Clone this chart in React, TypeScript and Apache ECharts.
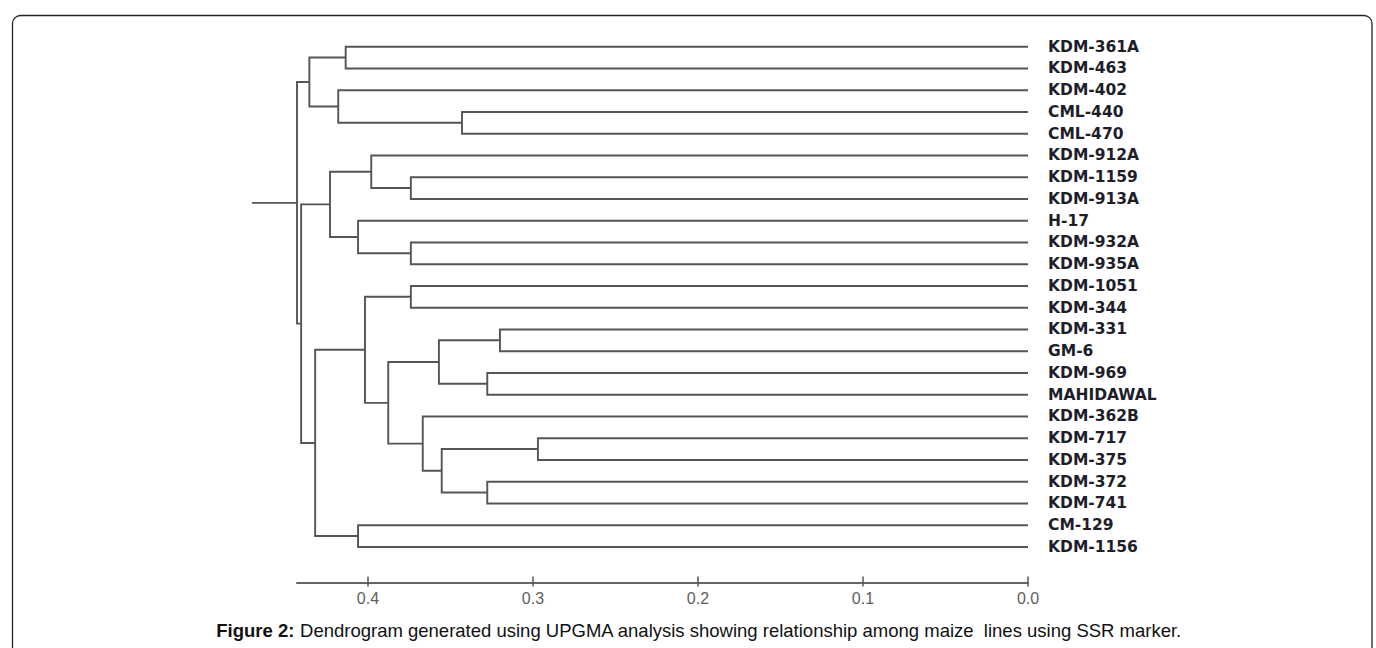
import React, { useEffect, useRef } from "react";
import * as echarts from "echarts";

const LEAVES = [
  "KDM-361A", "KDM-463", "KDM-402", "CML-440", "CML-470", "KDM-912A",
  "KDM-1159", "KDM-913A", "H-17", "KDM-932A", "KDM-935A", "KDM-1051",
  "KDM-344", "KDM-331", "GM-6", "KDM-969", "MAHIDAWAL", "KDM-362B",
  "KDM-717", "KDM-375", "KDM-372", "KDM-741", "CM-129", "KDM-1156",
];

// merge i is named "m" + i
const MERGE_LEFT = [
  "CML-440", "KDM-402", "KDM-361A", "m2", "KDM-1159", "KDM-912A", "KDM-932A",
  "H-17", "m5", "KDM-1051", "KDM-331", "KDM-969", "m10", "KDM-717", "KDM-372",
  "m13", "KDM-362B", "m12", "m9", "CM-129", "m18", "m8", "m3",
];
const MERGE_RIGHT = [
  "CML-470", "m0", "KDM-463", "m1", "KDM-913A", "m4", "KDM-935A", "m6", "m7",
  "KDM-344", "GM-6", "MAHIDAWAL", "m11", "KDM-375", "KDM-741", "m14", "m15",
  "m16", "m17", "KDM-1156", "m19", "m20", "m21",
];
const MERGE_HEIGHT = [
  0.343, 0.418, 0.4135, 0.4355, 0.374, 0.398, 0.374, 0.406, 0.423, 0.374,
  0.32, 0.3277, 0.357, 0.297, 0.3277, 0.3553, 0.3668, 0.3877, 0.4018, 0.406,
  0.432, 0.4405, 0.443,
];
const ROOT_STEM = 0.4703;
const X_TICKS = [0, 0.1, 0.2, 0.3, 0.4];
const CAPTION_BOLD = "Figure 2:";
const CAPTION_TEXT =
  " Dendrogram generated using UPGMA analysis showing relationship among maize  lines using SSR marker.";

function buildSegments() {
  const pos: Record<string, [number, number]> = {};
  LEAVES.forEach((n, i) => (pos[n] = [0, i]));
  const items: number[][] = [];
  MERGE_HEIGHT.forEach((h, i) => {
    const a = pos[MERGE_LEFT[i]];
    const b = pos[MERGE_RIGHT[i]];
    const y = (a[1] + b[1]) / 2;
    pos["m" + i] = [h, y];
    items.push([h, a[0], a[1], b[0], b[1]]);
  });
  const root = pos["m" + (MERGE_HEIGHT.length - 1)];
  items.push([ROOT_STEM, root[0], root[1], root[0], root[1]]);
  return items;
}

export default function App() {
  const ref = useRef<HTMLDivElement>(null);
  useEffect(() => {
    document.body.style.margin = "0";
    const chart = echarts.init(ref.current!, null, { renderer: "svg" });
    const segs = buildSegments();
    const lineColor = "#555";
    const xMax = MERGE_HEIGHT[MERGE_HEIGHT.length - 1];
    chart.setOption({
      animation: false,
      backgroundColor: "#fff",
      grid: { left: 297, right: 348, top: 35.8, height: 522 },
      xAxis: [
        {
          type: "value", inverse: true, min: 0, max: xMax,
          position: "bottom", offset: 24.7,
          axisLine: { show: true, onZero: false, lineStyle: { color: "#666", width: 2 } },
          axisTick: { show: true, inside: true, length: 6, customValues: X_TICKS, lineStyle: { color: "#555", width: 1.5 } },
          axisLabel: {
            customValues: X_TICKS, margin: 8, color: "#606060", fontSize: 16,
            fontFamily: "Liberation Sans", formatter: (v: number) => v.toFixed(1),
          },
          splitLine: { show: false },
        },
        {
          type: "value", inverse: true, min: 0, max: xMax,
          position: "bottom", offset: 24.7,
          axisLine: { show: false, onZero: false },
          axisTick: { show: true, inside: false, length: 4, customValues: X_TICKS, lineStyle: { color: "#555", width: 1.5 } },
          axisLabel: { show: false },
          splitLine: { show: false },
        },
      ],
      yAxis: [
        { type: "value", min: -0.5, max: LEAVES.length - 0.5, inverse: true, show: false },
        {
          type: "category", data: LEAVES, inverse: true, position: "right",
          axisLine: { show: false }, axisTick: { show: false }, splitLine: { show: false },
          axisLabel: {
            interval: 0, margin: 20, color: "#1e1e2a", fontSize: 15.5,
            fontWeight: "bold", fontFamily: "DejaVu Sans",
          },
        },
      ],
      series: [
        {
          type: "custom",
          xAxisIndex: 0,
          yAxisIndex: 0,
          clip: false,
          data: segs,
          renderItem: (params: any, api: any) => {
            const h = api.value(0);
            const ha = api.value(1), ya = api.value(2);
            const hb = api.value(3), yb = api.value(4);
            const pts = [
              api.coord([ha, ya]), api.coord([h, ya]),
              api.coord([h, yb]), api.coord([hb, yb]),
            ];
            return {
              type: "polyline",
              shape: { points: pts },
              style: { stroke: lineColor, lineWidth: 1.9, fill: "none" },
            };
          },
        },
      ],
      graphic: [
        {
          type: "rect", left: 10, top: 13,
          shape: { x: 0, y: 0, width: 1359.5, height: 700, r: 8 },
          style: { fill: "none", stroke: "#222", lineWidth: 1.3 },
          silent: true,
        },
        {
          type: "text", x: 699, y: 630,
          style: {
            text: "{b|" + CAPTION_BOLD + "}" + CAPTION_TEXT,
            textAlign: "center", textVerticalAlign: "middle",
            font: "18.5px 'Liberation Sans'", fill: "#111",
            rich: { b: { fontWeight: "bold", fontSize: 18.5, fontFamily: "Liberation Sans", fill: "#111" } },
          },
        },
      ],
    });
    return () => chart.dispose();
  }, []);
  return <div ref={ref} style={{ width: 1376, height: 648 }} />;
}
